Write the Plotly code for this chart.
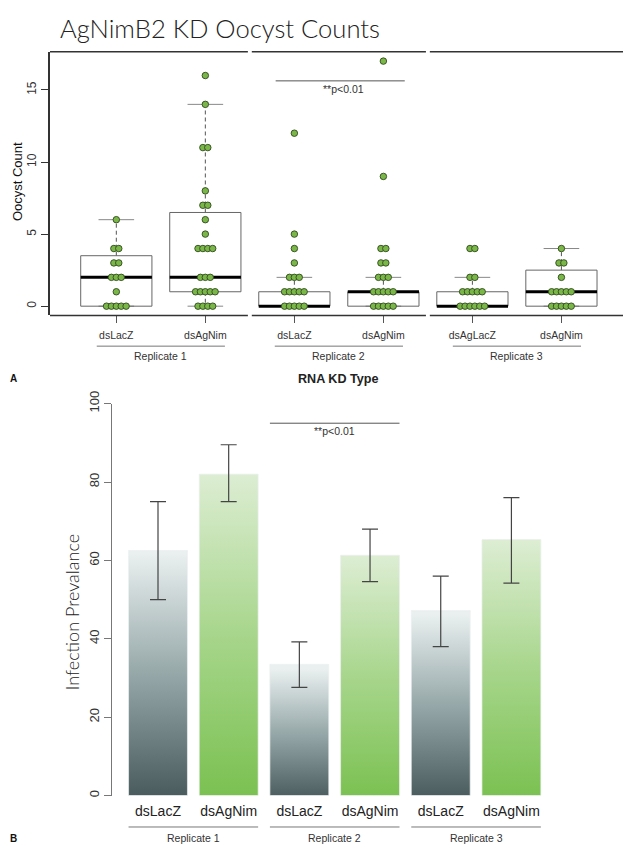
import plotly.graph_objects as go

W, H = 631, 848
OFF = 8  # the page body margin shifts the figure by 8px; positions below are page pixels


def px(x):
    return (x - OFF) / W


def py(y):
    return 1 - (y - OFF) / H


# ---------------- Panel A data: oocyst counts ----------------
box_labels = ["dsLacZ", "dsAgNim", "dsLacZ", "dsAgNim", "dsAgLacZ", "dsAgNim"]
replicates = ["Replicate 1", "Replicate 2", "Replicate 3"]
box_q1 = [0, 1, 0, 0, 0, 0]
box_median = [2, 2, 0, 1, 0, 1]
box_q3 = [3.5, 6.5, 1, 1, 1, 2.5]
whisker_low = [0, 0, 0, 0, 0, 0]
whisker_high = [6, 14, 2, 2, 2, 4]
oocyst_r1_lacz = [6, 4, 4, 3, 3, 2, 2, 2, 1, 0, 0, 0, 0, 0]
oocyst_r1_nim = [16, 14, 11, 11, 8, 7, 7, 6, 5, 4, 4, 4, 4, 2, 2, 2, 1, 1, 1, 1, 1, 0, 0, 0, 0]
oocyst_r2_lacz = [12, 5, 4, 3, 2, 2, 2, 1, 1, 1, 1, 1, 0, 0, 0, 0, 0]
oocyst_r2_nim = [17, 9, 4, 4, 3, 3, 2, 2, 2, 1, 1, 1, 1, 1, 0, 0, 0, 0, 0]
oocyst_r3_lacz = [4, 4, 2, 2, 1, 1, 1, 1, 1, 0, 0, 0, 0, 0, 0]
oocyst_r3_nim = [4, 3, 3, 2, 1, 1, 1, 1, 1, 0, 0, 0, 0, 0]
oocyst_counts = [oocyst_r1_lacz, oocyst_r1_nim, oocyst_r2_lacz,
                 oocyst_r2_nim, oocyst_r3_lacz, oocyst_r3_nim]

# ---------------- Panel B data: infection prevalence ----------------
bar_labels = ["dsLacZ", "dsAgNim", "dsLacZ", "dsAgNim", "dsLacZ", "dsAgNim"]
prevalence = [62.5, 82, 33.5, 61.3, 47.2, 65.3]
prev_low = [50, 75, 27.6, 54.6, 38, 54.2]
prev_high = [75, 89.5, 39.2, 68, 56, 76]

fig = go.Figure()

# ---------- Panel A: boxes ----------
pos = list(range(1, 7))
hw, cw = 0.4, 0.2
rx, ry, mx, my, wx, wy, cx, cy = [], [], [], [], [], [], [], []
for i, p in enumerate(pos):
    rx += [p - hw, p + hw, p + hw, p - hw, p - hw, None]
    ry += [box_q1[i], box_q1[i], box_q3[i], box_q3[i], box_q1[i], None]
    mx += [p - hw, p + hw, None]
    my += [box_median[i], box_median[i], None]
    if whisker_high[i] > box_q3[i]:
        wx += [p, p, None]
        wy += [box_q3[i], whisker_high[i], None]
    if whisker_low[i] < box_q1[i]:
        wx += [p, p, None]
        wy += [box_q1[i], whisker_low[i], None]
    cx += [p - cw, p + cw, None, p - cw, p + cw, None]
    cy += [whisker_high[i], whisker_high[i], None, whisker_low[i], whisker_low[i], None]

fig.add_trace(go.Scatter(x=wx, y=wy, mode="lines", line=dict(color="#555", width=1, dash="4px,3px"),
                         xaxis="x", yaxis="y", hoverinfo="skip", showlegend=False))
fig.add_trace(go.Scatter(x=cx, y=cy, mode="lines", line=dict(color="#888", width=1),
                         xaxis="x", yaxis="y", hoverinfo="skip", showlegend=False))
fig.add_trace(go.Scatter(x=rx, y=ry, mode="lines", line=dict(color="#666", width=1),
                         xaxis="x", yaxis="y", hoverinfo="skip", showlegend=False))
fig.add_trace(go.Scatter(x=mx, y=my, mode="lines", line=dict(color="#000", width=3),
                         xaxis="x", yaxis="y", hoverinfo="skip", showlegend=False))

# ---------- Panel A: points (spread side by side when values coincide) ----------
spacing = 0.055
ptx, pty = [], []
for i, vals in enumerate(oocyst_counts):
    groups = {}
    for v in vals:
        groups[v] = groups.get(v, 0) + 1
    for v, k in groups.items():
        for j in range(k):
            ptx.append(pos[i] + (j - (k - 1) / 2) * spacing)
            pty.append(v)
fig.add_trace(go.Scatter(x=ptx, y=pty, mode="markers",
                         marker=dict(size=6.5, color="#7ab648", line=dict(color="#2f4a1c", width=0.9)),
                         xaxis="x", yaxis="y", hoverinfo="skip", showlegend=False))

# ---------- Panel B: gradient bars ----------
centers = [0.7 + 1.2 * i for i in range(6)]
lacz_scale = [[0, "#465759"], [0.5, "#93a5a6"], [1, "#eaf0f0"]]
nim_scale = [[0, "#79c04f"], [0.5, "#a6d58a"], [1, "#dcedd2"]]
for i, c in enumerate(centers):
    v = prevalence[i]
    fig.add_trace(go.Scatter(
        x=[c - 0.5, c + 0.5, c + 0.5, c - 0.5, c - 0.5],
        y=[0, 0, v, v, 0],
        mode="lines", fill="toself",
        fillgradient=dict(type="vertical", colorscale=lacz_scale if i % 2 == 0 else nim_scale,
                          start=0, stop=v),
        line=dict(color="rgba(235,240,240,0.7)", width=1),
        xaxis="x2", yaxis="y2", hoverinfo="skip", showlegend=False))

fig.add_trace(go.Scatter(
    x=centers, y=prevalence, mode="markers",
    marker=dict(size=1, color="rgba(0,0,0,0)"),
    error_y=dict(type="data", symmetric=False,
                 array=[h - v for h, v in zip(prev_high, prevalence)],
                 arrayminus=[v - l for v, l in zip(prevalence, prev_low)],
                 color="#444", thickness=1.2, width=8),
    xaxis="x2", yaxis="y2", hoverinfo="skip", showlegend=False))

# ---------- layout ----------
top_x0, top_x1 = 0.255, 6.74
font = "Liberation Sans, Arial, sans-serif"
light = "Lato, " + font
fig.update_layout(
    width=W, height=H, margin=dict(l=0, r=0, t=0, b=0),
    paper_bgcolor="white", plot_bgcolor="white",
    font=dict(family=font, color="#222"),
    xaxis=dict(domain=[px(50), px(627.3)], range=[top_x0, top_x1],
               tickvals=pos, ticktext=box_labels, ticks="outside", ticklen=7,
               tickcolor="#555", tickfont=dict(size=10.5, color="#333"),
               showline=False, showgrid=False, zeroline=False, ticklabelstandoff=3),
    yaxis=dict(domain=[py(307.7), py(39.3)], range=[-0.64, 17.65],
               tickvals=[0, 5, 10, 15], ticks="outside", ticklen=7, tickcolor="#333",
               tickangle=-90, tickfont=dict(size=12, color="#333"),
               showline=True, mirror=True, linecolor="#333", linewidth=1.5,
               showgrid=False, zeroline=False),
    xaxis2=dict(domain=[px(112), px(560)], range=[-0.081, 7.525], anchor="y2",
                tickvals=centers, ticktext=bar_labels, ticks="",
                tickfont=dict(size=14, color="#222"),
                showline=False, showgrid=False, zeroline=False, ticklabelstandoff=5),
    yaxis2=dict(domain=[py(796.5), py(397.5)], range=[0, 100], anchor="x2",
                tickvals=[0, 20, 40, 60, 80, 100], ticks="outside", ticklen=7,
                tickcolor="#777", tickangle=-90, tickfont=dict(size=13, color="#333"),
                showline=True, linecolor="#777", linewidth=1.2,
                showgrid=False, zeroline=False),
)

shapes = []
gap = 0.022
for g in range(3):
    a = top_x0 if g == 0 else 2 * g + 0.5 + gap
    b = top_x1 if g == 2 else 2 * g + 2.5 - gap
    for yy in (0, 1):
        shapes.append(dict(type="line", xref="x", yref="y domain", x0=a, x1=b, y0=yy, y1=yy,
                           line=dict(color="#333", width=1.5)))
    shapes.append(dict(type="line", xref="x", yref="paper", x0=2 * g + 1 - 0.22, x1=2 * g + 2 + 0.22,
                       y0=py(339), y1=py(339), line=dict(color="#777", width=1)))
    shapes.append(dict(type="line", xref="x2", yref="paper",
                       x0=centers[2 * g] - 0.5, x1=centers[2 * g + 1] + 0.5,
                       y0=py(828.5), y1=py(828.5), line=dict(color="#777", width=1)))

shapes.append(dict(type="line", xref="x", yref="y", x0=2.79, x1=4.24, y0=15.63, y1=15.63,
                   line=dict(color="#555", width=1)))
shapes.append(dict(type="line", xref="x2", yref="y2", x0=centers[2] - 0.5, x1=centers[3] + 0.5,
                   y0=95, y1=95, line=dict(color="#555", width=1)))
fig.update_layout(shapes=shapes)


def A(text, x, y, size, color="#222", angle=0, fam=None, weight=None, xa="center",
      xref="paper", yref="paper"):
    f = dict(size=size, color=color)
    if fam:
        f["family"] = fam
    if weight:
        f["weight"] = weight
    return dict(text=text, xref=xref, yref=yref, x=x, y=y, xanchor=xa, yanchor="middle",
                textangle=angle, showarrow=False, font=f)


ann = []
ann.append(A("AgNimB2 KD Oocyst Counts", px(58), py(15), 25.6, fam=light, weight=300, xa="left"))
ann.append(A("Oocyst Count", px(17), py(172), 13, color="#111", angle=-90))
ann.append(A("<b>RNA KD Type</b>", px(338), py(372), 12.6))
ann.append(A("<b>A</b>", px(8), py(372), 10, color="#111", xa="left"))
ann.append(A("<b>B</b>", px(8), py(840), 10, color="#111", xa="left"))
ann.append(A("Infection Prevalance", px(72), py(610), 18, angle=-90, fam=light, weight=300))
ann.append(A("**p<0.01", 3.55, 15.1, 10.5, color="#333", xref="x", yref="y"))
ann.append(A("**p<0.01", 3.7, 93.1, 10.5, color="#333", xref="x2", yref="y2"))
for g in range(3):
    ann.append(A(replicates[g], 2 * g + 1.5, py(349.5), 10.5, color="#333", xref="x"))
    ann.append(A(replicates[g], (centers[2 * g] + centers[2 * g + 1]) / 2, py(839.5), 10.5,
                 color="#333", xref="x2"))
fig.update_layout(annotations=ann)

fig.write_html("out.html")
